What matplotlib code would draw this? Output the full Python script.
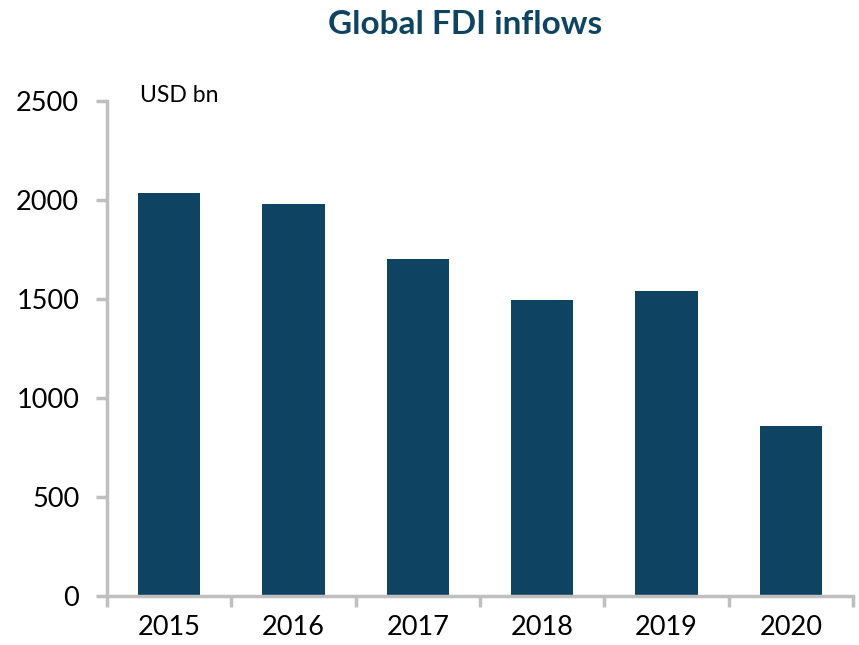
import matplotlib
matplotlib.use("Agg")
import matplotlib.pyplot as plt
import numpy as np

years = ["2015", "2016", "2017", "2018", "2019", "2020"]
fdi = [2037, 1982, 1700, 1495, 1540, 859]
yticks = [0, 500, 1000, 1500, 2000, 2500]

bar_color = "#0e4462"
axis_color = "#bfbfbf"
plt.rcParams["font.family"] = ["Lato", "DejaVu Sans"]

fig = plt.figure(figsize=(8.59, 6.45), dpi=100)
ax = fig.add_axes([107/859, 1-596/645, (853-107)/859, (596-101)/645])

x = np.arange(len(years))
ax.bar(x, fdi, width=0.5, color=bar_color, zorder=2)
ax.set_xlim(-0.5, len(years) - 0.5)
ax.set_ylim(0, 2500)

ax.set_yticks(yticks)
ax.set_yticklabels([str(v) for v in yticks], fontsize=19.5)
ax.set_xticks(np.arange(len(years) + 1) - 0.5)
ax.set_xticklabels([""] * (len(years) + 1))
ax.set_xticks(x, minor=True)
ax.set_xticklabels(years, minor=True, fontsize=19.5)
ax.tick_params(axis="x", which="major", length=8, width=2.5, color=axis_color, direction="out")
ax.tick_params(axis="x", which="minor", length=0, pad=14)
ax.tick_params(axis="y", length=8, width=2.5, color=axis_color, direction="out", pad=12)

for s in ["top", "right"]:
    ax.spines[s].set_visible(False)
for s in ["left", "bottom"]:
    ax.spines[s].set_color(axis_color)
    ax.spines[s].set_linewidth(2.5)

fig.text(140/859, 1-96/645, "USD bn", fontsize=16.5, va="center", ha="left")
fig.text(465/859, 1-25/645, "Global FDI inflows", fontsize=24, fontweight="bold",
         color=bar_color, ha="center", va="center")

fig.savefig("out.png", dpi=100)
